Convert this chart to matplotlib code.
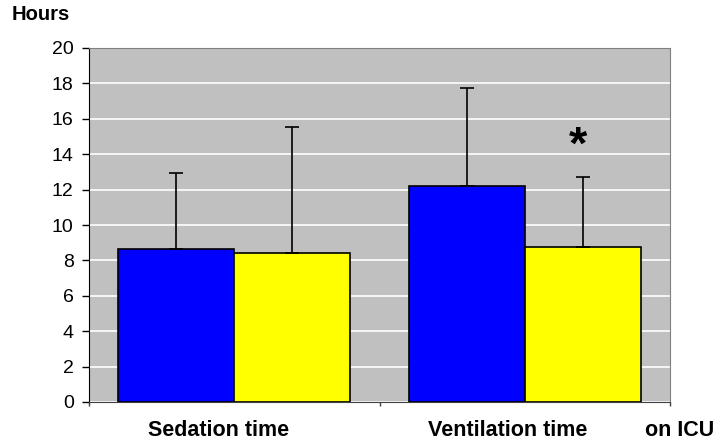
import numpy as np
import matplotlib.pyplot as plt

plt.rcParams['font.family'] = ['Liberation Sans', 'DejaVu Sans']

# medias y desvio (solo hacia arriba) en horas
grupos = ['Sedation time', 'Ventilation time']
serie_a = [8.64, 12.2]
serie_b = [8.42, 8.76]
err_a = [4.3, 5.54]
err_b = [7.1, 3.94]

W, H = 715, 446
fig = plt.figure(figsize=(W/100, H/100), dpi=100)
ax = fig.add_axes([89/W, 1 - 402/H, (670 - 89)/W, (402 - 48)/H])
ax.set_facecolor('#C0C0C0')

x = np.arange(len(grupos))
w = 0.4
ax.bar(x - w/2, serie_a, w, color='#0000FF', edgecolor='black', linewidth=1.2, zorder=3)
ax.bar(x + w/2, serie_b, w, color='#FFFF00', edgecolor='black', linewidth=1.2, zorder=3)

# barras de error solo hacia arriba
ax.errorbar(x - w/2, serie_a, yerr=[np.zeros(2), err_a], fmt='none', ecolor='black',
            elinewidth=1.2, capsize=5, capthick=1.2, zorder=4)
ax.errorbar(x + w/2, serie_b, yerr=[np.zeros(2), err_b], fmt='none', ecolor='black',
            elinewidth=1.2, capsize=5, capthick=1.2, zorder=4)

# asterisco de significancia
ax.text(1.183, 14.45, '*', ha='center', va='center', fontsize=34, fontweight='bold')

ax.set_xlim(-0.5, 1.5)
ax.set_ylim(0, 20)
ax.set_yticks(np.arange(0, 21, 2))
ax.yaxis.grid(True, color='white', linewidth=1.2, zorder=0)
ax.set_axisbelow(True)
ax.tick_params(axis='y', labelsize=14, length=5, width=1, direction='out', pad=6)

ax.set_xticks([-0.5, 0.5, 1.5])
ax.set_xticklabels([])
ax.tick_params(axis='x', length=3, width=1, direction='out', colors='#404040')

for lado in ['top', 'right']:
    ax.spines[lado].set_color('#808080')
ax.spines['bottom'].set_color('#404040')
ax.spines['left'].set_color('black')

# rotulos de categorias debajo del eje
fig.text(218.5/W, 1 - 431/H, grupos[0], ha='center', va='center', fontsize=15.5, fontweight='bold')
fig.text(508/W, 1 - 431/H, grupos[1], ha='center', va='center', fontsize=15.5, fontweight='bold')
fig.text(645/W, 1 - 431/H, 'on ICU', ha='left', va='center', fontsize=15.5, fontweight='bold')

fig.text(12/W, 1 - 15/H, 'Hours', ha='left', va='center', fontsize=14.5, fontweight='bold')

fig.savefig('out.png', dpi=100)
